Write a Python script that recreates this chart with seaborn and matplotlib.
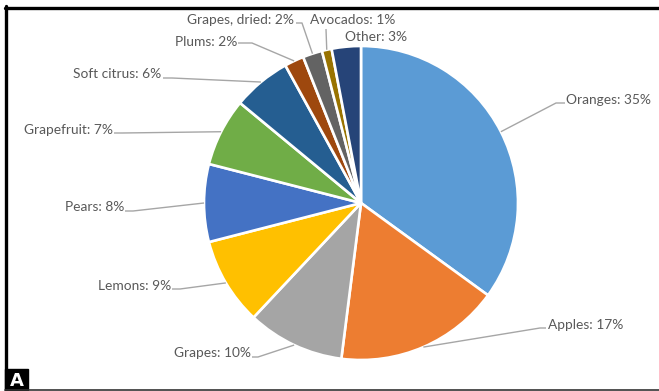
import numpy as np
import matplotlib
matplotlib.use("Agg")
import matplotlib.pyplot as plt
import seaborn as sns
from matplotlib.lines import Line2D
from matplotlib.patches import Rectangle

# Share of fruit by type
fruits = ["Oranges", "Apples", "Grapes", "Lemons", "Pears", "Grapefruit",
          "Soft citrus", "Plums", "Grapes, dried", "Avocados", "Other"]
shares = [35, 17, 10, 9, 8, 7, 6, 2, 2, 1, 3]
colors = ["#5B9BD5", "#ED7D31", "#A5A5A5", "#FFC000", "#4472C4", "#70AD47",
          "#255E91", "#9E480E", "#636363", "#997300", "#264478"]

sns.set_theme(style="white")
plt.rcParams["font.family"] = ["Lato", "DejaVu Sans"]

W, H = 659, 391
fig = plt.figure(figsize=(W / 100, H / 100), dpi=100)
ax = fig.add_axes([0, 0, 1, 1])

# pixel layout helpers: pie centre and radius in figure pixels
CX, CY, R = 361, 203, 157
def px(x, y):
    return ((x - CX) / R, (CY - y) / R)

wedges, _ = ax.pie(shares, colors=sns.color_palette(colors), startangle=90,
                   counterclock=False, radius=1.0, center=(0, 0),
                   wedgeprops=dict(edgecolor="white", linewidth=1.9),
                   frame=True)
ax.axis("off")
ax.set_xlim(-CX / R, (W - CX) / R)
ax.set_ylim(-(H - CY) / R, CY / R)
ax.set_aspect("equal")

# label placement: text anchor (px), alignment, elbow points (px) of leader
layout = {
    "Oranges":       ((566, 100), "left",  [(565, 103), (556, 103)]),
    "Apples":        ((548, 325), "left",  [(546, 328), (540, 328)]),
    "Grapes":        ((251, 353), "right", [(252, 357), (258, 357)]),
    "Lemons":        ((171, 286), "right", [(172, 289), (180, 289)]),
    "Pears":         ((124, 207), "right", [(125, 211), (133, 211)]),
    "Grapefruit":    ((113, 130), "right", [(114, 133), (122, 133)]),
    "Soft citrus":   ((161, 74),  "right", [(163, 78),  (172, 78)]),
    "Plums":         ((237, 42),  "right", [(238, 43),  (252, 43)]),
    "Grapes, dried": ((294, 20),  "right", [(296, 23),  (302, 23)]),
    "Avocados":      ((310, 20),  "left",  [(326, 29)]),
    "Other":         ((345, 37),  "left",  None),
}

total = float(sum(shares))
cum = np.cumsum([0] + shares)
for i, (name, val) in enumerate(zip(fruits, shares)):
    mid = (cum[i] + val / 2) / total
    ang = np.deg2rad(90 - 360 * mid)
    anchor = (np.cos(ang), np.sin(ang))
    (tx, ty), ha, elbow = layout[name]
    ax.text(*px(tx, ty), f"{name}: {val}%", ha=ha, va="center",
            fontsize=9.9, color="#595959")
    if elbow:
        pts = [px(*p) for p in elbow] + [anchor]
        xs, ys = zip(*pts)
        ax.plot(xs, ys, color="#A6A6A6", lw=1.0, solid_capstyle="butt")

# outer frame: left, top and bottom rules
fig.add_artist(Line2D([6 / W, 6 / W], [0, 1 - 6 / H], color="black", lw=2.4,
                      transform=fig.transFigure))
fig.add_artist(Line2D([5 / W, 1], [1 - 7.5 / H, 1 - 7.5 / H], color="black",
                      lw=2.4, transform=fig.transFigure))
fig.add_artist(Line2D([5 / W, 1], [1.5 / H, 1.5 / H], color="#333333",
                      lw=1.2, transform=fig.transFigure))

# panel tag
fig.add_artist(Rectangle((5 / W, 0), 23 / W, 22 / H, color="black",
                         transform=fig.transFigure))
fig.text(16.5 / W, 10 / H, "A", color="white", fontsize=13, fontweight="bold",
         ha="center", va="center", family=["DejaVu Sans"])

fig.savefig("out.png", dpi=100)
